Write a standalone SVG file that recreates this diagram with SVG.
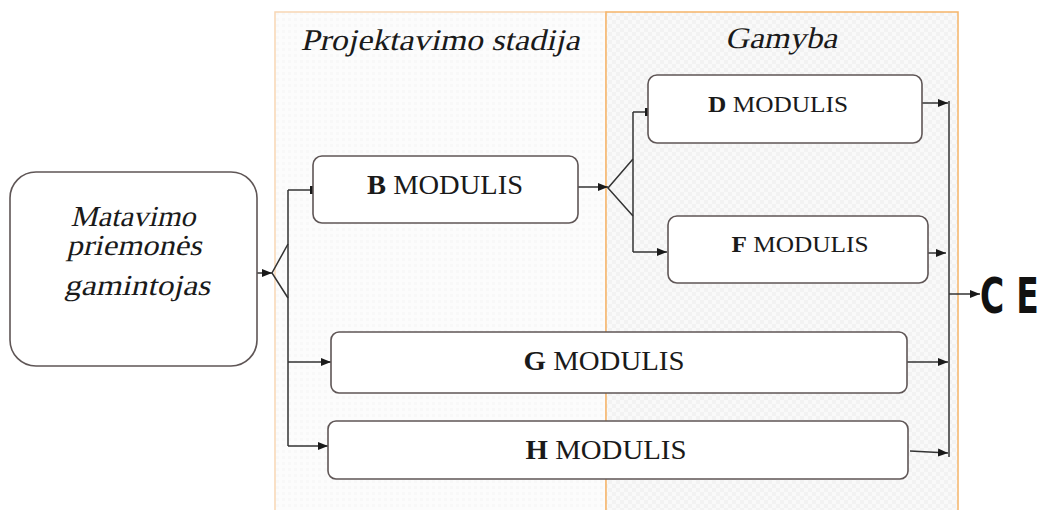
<svg xmlns="http://www.w3.org/2000/svg" width="1039" height="510" viewBox="0 0 1039 510">
<style>
.node{fill:#ffffff;stroke:#5f5656;stroke-width:1.6}
.lbl{font-family:"Liberation Serif","Times New Roman",serif;fill:#1a1a1a}
.ital{font-size:29px;text-anchor:middle}
.conn line,.conn polyline{stroke:#333333;stroke-width:1.5;fill:none}
</style>
<defs>
<pattern id="pA" width="6" height="6" patternUnits="userSpaceOnUse">
<rect width="6" height="6" fill="#fcfcfc"/>
<rect width="3" height="3" fill="#f8f8f8"/>
</pattern>
<pattern id="pB" width="8" height="8" patternUnits="userSpaceOnUse">
<rect width="8" height="8" fill="#f9f9f9"/>
<rect width="4" height="4" fill="#f2f2f2"/>
<rect x="4" y="4" width="4" height="4" fill="#f2f2f2"/>
</pattern>
<marker id="arr" viewBox="0 0 10 8" refX="10" refY="4" markerWidth="10" markerHeight="8" markerUnits="userSpaceOnUse" orient="auto">
<path d="M0,0 L10,4 L0,8 z" fill="#1a1a1a"/>
</marker>
<marker id="tick" viewBox="0 0 3 8" refX="3" refY="4" markerWidth="3" markerHeight="8" markerUnits="userSpaceOnUse" orient="auto">
<rect width="3" height="8" fill="#1a1a1a"/>
</marker>
</defs>
<rect width="1039" height="510" fill="#ffffff"/>

<g id="panel-projektavimo">
<rect x="275" y="12" width="331" height="500" fill="url(#pA)" stroke="#f8d6b4" stroke-width="1.5"/>
<g transform="translate(440,50) skewX(-13)">
<text class="lbl" x="0" y="0" font-size="30" text-anchor="middle" textLength="279" lengthAdjust="spacingAndGlyphs">Projektavimo stadija</text>
</g>
</g>
<g id="panel-gamyba">
<rect x="606" y="12" width="352" height="500" fill="url(#pB)" stroke="#f5b468" stroke-width="1.5"/>
<g transform="translate(781,48) skewX(-13)">
<text class="lbl" x="0" y="0" font-size="30" text-anchor="middle" textLength="112" lengthAdjust="spacingAndGlyphs">Gamyba</text>
</g>
</g>

<g id="connectors" class="conn">
<line x1="257" y1="273" x2="272" y2="273" marker-end="url(#arr)"/>
<polyline points="288,244 272,273 288,298"/>
<line x1="288" y1="190" x2="288" y2="446"/>
<line x1="288" y1="190" x2="313" y2="190" marker-end="url(#tick)"/>
<line x1="288" y1="362" x2="331" y2="362" marker-end="url(#arr)"/>
<line x1="288" y1="446" x2="328" y2="446" marker-end="url(#arr)"/>
<line x1="578" y1="187" x2="608" y2="187" marker-end="url(#arr)"/>
<polyline points="633,159 608,188 633,216"/>
<line x1="633" y1="112" x2="633" y2="252"/>
<line x1="633" y1="112" x2="648" y2="112" marker-end="url(#tick)"/>
<line x1="633" y1="252" x2="667" y2="252" marker-end="url(#arr)"/>
<line x1="922" y1="103" x2="948" y2="103" marker-end="url(#arr)"/>
<line x1="928" y1="253" x2="946" y2="253" marker-end="url(#arr)"/>
<line x1="907" y1="362" x2="948" y2="362" marker-end="url(#arr)"/>
<line x1="910" y1="451" x2="948" y2="453" marker-end="url(#arr)"/>
<line x1="949" y1="101" x2="949" y2="457"/>
<line x1="949" y1="294" x2="980" y2="294" marker-end="url(#arr)"/>
</g>

<g id="node-gamintojas">
<rect class="node" x="10" y="172" width="247" height="194" rx="26"/>
<g transform="translate(133,226) skewX(-13)"><text class="lbl ital" x="0" y="0" textLength="125" lengthAdjust="spacingAndGlyphs">Matavimo</text></g>
<g transform="translate(134,255) skewX(-13)"><text class="lbl ital" x="0" y="0" textLength="135" lengthAdjust="spacingAndGlyphs">priemonės</text></g>
<g transform="translate(137,295) skewX(-13)"><text class="lbl ital" x="0" y="0" textLength="146" lengthAdjust="spacingAndGlyphs">gamintojas</text></g>
</g>

<g id="node-b">
<rect class="node" x="313" y="156" width="265" height="67" rx="9"/>
<text class="lbl" x="445" y="194" font-size="27" text-anchor="middle" textLength="156" lengthAdjust="spacingAndGlyphs"><tspan font-weight="bold">B</tspan> MODULIS</text>
</g>

<g id="node-d">
<rect class="node" x="648" y="75" width="274" height="68" rx="9"/>
<text class="lbl" x="778" y="112" font-size="23" text-anchor="middle" textLength="140" lengthAdjust="spacingAndGlyphs"><tspan font-weight="bold">D</tspan> MODULIS</text>
</g>

<g id="node-f">
<rect class="node" x="668" y="216" width="260" height="67" rx="9"/>
<text class="lbl" x="800" y="252" font-size="23" text-anchor="middle" textLength="137" lengthAdjust="spacingAndGlyphs"><tspan font-weight="bold">F</tspan> MODULIS</text>
</g>

<g id="node-g">
<rect class="node" x="331" y="332" width="576" height="61" rx="8"/>
<text class="lbl" x="604" y="370" font-size="27" text-anchor="middle" textLength="161" lengthAdjust="spacingAndGlyphs"><tspan font-weight="bold">G</tspan> MODULIS</text>
</g>

<g id="node-h">
<rect class="node" x="328" y="421" width="580" height="58" rx="8"/>
<text class="lbl" x="606" y="459" font-size="27" text-anchor="middle" textLength="161" lengthAdjust="spacingAndGlyphs"><tspan font-weight="bold">H</tspan> MODULIS</text>
</g>

<g id="ce-mark">
<text font-family="'DejaVu Sans','Liberation Sans',sans-serif" font-weight="bold" font-size="50" fill="#111111" transform="translate(980,313) scale(0.66,1)"><tspan x="0">C</tspan><tspan x="55">E</tspan></text>
</g>
</svg>
